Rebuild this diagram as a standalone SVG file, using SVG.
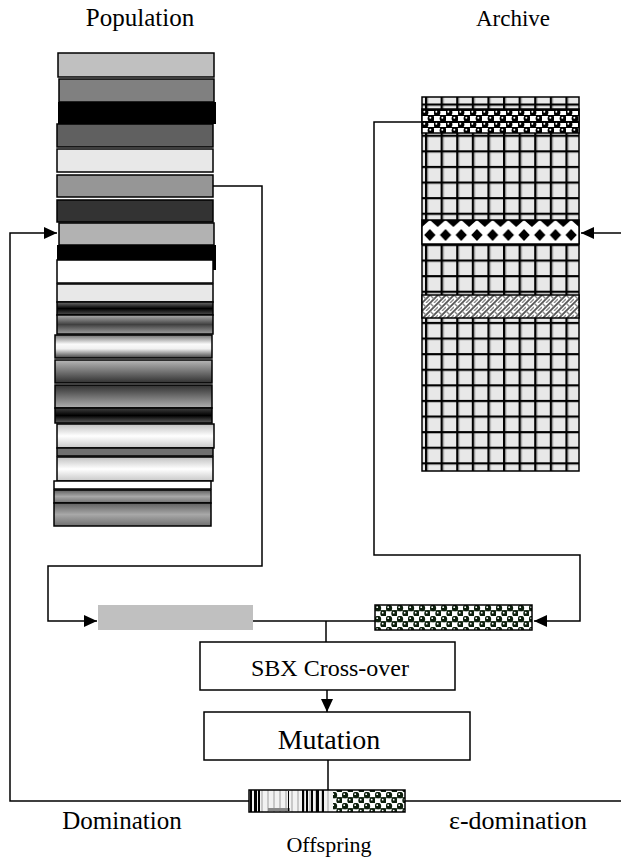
<svg xmlns="http://www.w3.org/2000/svg" width="621" height="861" viewBox="0 0 621 861">
<style>
.lbl{font-family:"Liberation Serif","Times New Roman",serif;fill:#000;text-anchor:middle}
.bar{stroke:#000;stroke-width:1.5}
.conn{fill:none;stroke:#000;stroke-width:1.5}
.box{fill:#fff;stroke:#000;stroke-width:1.5}
</style>
<defs>
<marker id="ah" markerWidth="14" markerHeight="14" refX="13" refY="7" orient="auto" markerUnits="userSpaceOnUse">
<path d="M0,1 L13,7 L0,13 Z" fill="#000"/>
</marker>
<linearGradient id="gDark" x1="0" y1="0" x2="0" y2="1"><stop offset="0" stop-color="#707070"/><stop offset="0.5" stop-color="#000"/><stop offset="1" stop-color="#505050"/></linearGradient>
<linearGradient id="gGrayMid" x1="0" y1="0" x2="0" y2="1"><stop offset="0" stop-color="#b0b0b0"/><stop offset="0.5" stop-color="#404040"/><stop offset="1" stop-color="#a0a0a0"/></linearGradient>
<linearGradient id="gWhite" x1="0" y1="0" x2="0" y2="1"><stop offset="0" stop-color="#707070"/><stop offset="0.4" stop-color="#fafafa"/><stop offset="0.6" stop-color="#f0f0f0"/><stop offset="1" stop-color="#404040"/></linearGradient>
<linearGradient id="gDown" x1="0" y1="0" x2="0" y2="1"><stop offset="0" stop-color="#b8b8b8"/><stop offset="1" stop-color="#303030"/></linearGradient>
<linearGradient id="gUp" x1="0" y1="0" x2="0" y2="1"><stop offset="0" stop-color="#303030"/><stop offset="1" stop-color="#b0b0b0"/></linearGradient>
<linearGradient id="gBlack" x1="0" y1="0" x2="0" y2="1"><stop offset="0" stop-color="#404040"/><stop offset="0.5" stop-color="#000"/><stop offset="1" stop-color="#606060"/></linearGradient>
<linearGradient id="gWhite2" x1="0" y1="0" x2="0" y2="1"><stop offset="0" stop-color="#c0c0c0"/><stop offset="0.5" stop-color="#ffffff"/><stop offset="1" stop-color="#c8c8c8"/></linearGradient>
<linearGradient id="gGray" x1="0" y1="0" x2="0" y2="1"><stop offset="0" stop-color="#606060"/><stop offset="0.5" stop-color="#a8a8a8"/><stop offset="1" stop-color="#707070"/></linearGradient>
<pattern id="grid" patternUnits="userSpaceOnUse" x="425" y="103.5" width="15.6" height="15.6">
<rect width="15.6" height="15.6" fill="#e8e8e8"/>
<rect x="0" y="0" width="2.2" height="15.6" fill="#000"/>
<rect x="2.2" y="0" width="1" height="15.6" fill="#808080"/>
<rect x="0" y="0" width="15.6" height="2.2" fill="#000"/>
</pattern>
<pattern id="balls" patternUnits="userSpaceOnUse" x="422" y="109" width="12" height="12">
<rect width="12" height="12" fill="#fff"/>
<rect x="0" y="0" width="12" height="2" fill="#000"/>
<rect x="0" y="6" width="12" height="1" fill="#000"/>
<circle cx="3" cy="3.5" r="3.4" fill="#000"/>
<circle cx="9" cy="9.5" r="3.4" fill="#000"/>
<circle cx="2.3" cy="2.8" r="1" fill="#fff"/>
<circle cx="8.3" cy="8.8" r="1" fill="#fff"/>
</pattern>
<pattern id="ballsG" patternUnits="userSpaceOnUse" x="375" y="605" width="11" height="11">
<rect width="11" height="11" fill="#fff"/>
<circle cx="3" cy="3" r="3.2" fill="#0d1f0d"/>
<circle cx="8.5" cy="8.5" r="3.2" fill="#0d1f0d"/>
<rect x="0" y="5.2" width="11" height="1" fill="#0d1f0d"/>
<circle cx="2.2" cy="2.2" r="0.9" fill="#fff"/>
<circle cx="7.7" cy="7.7" r="0.9" fill="#fff"/>
</pattern>
<pattern id="diam" patternUnits="userSpaceOnUse" x="422" y="220" width="15.7" height="24">
<rect width="15.7" height="24" fill="#fff"/>
<path d="M0,0 L7.85,0 L0,7 Z M15.7,0 L7.85,0 L15.7,7 Z" fill="#000"/>
<path d="M7.85,9 L13.5,15 L7.85,21 L2.2,15 Z" fill="#000"/>
</pattern>
<pattern id="weave" patternUnits="userSpaceOnUse" x="422" y="295" width="8" height="8">
<rect width="8" height="8" fill="#fff"/>
<path d="M0,8 L8,0 M-2,2 L2,-2 M6,10 L10,6" stroke="#555" stroke-width="1.8"/>
<path d="M0,0 L4,4 M4,8 L8,4" stroke="#888" stroke-width="1.4"/>
</pattern>
<pattern id="stripe" patternUnits="userSpaceOnUse" x="249" y="790" width="6" height="22">
<rect width="6" height="22" fill="#f2f2f2"/>
<rect x="0" width="2" height="22" fill="#c8c8c8"/>
</pattern>
</defs>

<text class="lbl" x="140" y="26" font-size="25">Population</text>
<text class="lbl" x="513" y="26" font-size="23">Archive</text>

<g id="population">
<rect class="bar" x="58" y="53" width="156" height="24" fill="#c0c0c0"/>
<rect class="bar" x="59" y="79" width="155" height="23" fill="#808080"/>
<rect x="58" y="102" width="158" height="22" fill="#000"/>
<rect class="bar" x="57" y="124" width="156" height="23" fill="#606060"/>
<rect class="bar" x="57" y="149" width="156" height="23" fill="#e8e8e8"/>
<rect class="bar" x="57" y="175" width="156" height="22" fill="#969696"/>
<rect class="bar" x="57" y="200" width="156" height="22" fill="#333333"/>
<rect class="bar" x="59" y="223" width="155" height="22" fill="#b2b2b2"/>
<rect x="57" y="245" width="159" height="25" fill="#000"/>
<rect class="bar" x="57" y="260" width="156" height="23" fill="#fff"/>
<rect class="bar" x="57" y="284" width="156" height="18" fill="#e8e8e8"/>
<rect class="bar" x="57" y="302" width="156" height="13" fill="url(#gDark)"/>
<rect class="bar" x="57" y="315" width="156" height="19" fill="url(#gGrayMid)"/>
<rect class="bar" x="55" y="335" width="157" height="23" fill="url(#gWhite)"/>
<rect class="bar" x="55" y="360" width="157" height="23" fill="url(#gDown)"/>
<rect class="bar" x="55" y="385" width="157" height="23" fill="url(#gUp)"/>
<rect class="bar" x="55" y="408" width="157" height="15" fill="url(#gBlack)"/>
<rect class="bar" x="57" y="424" width="157" height="24" fill="url(#gWhite2)"/>
<rect class="bar" x="57" y="448" width="156" height="8" fill="#707070"/>
<rect class="bar" x="57" y="457" width="156" height="24" fill="url(#gWhite2)"/>
<rect class="bar" x="54" y="481" width="157" height="8" fill="#fff"/>
<rect class="bar" x="54" y="490" width="157" height="13" fill="url(#gGray)"/>
<rect class="bar" x="54" y="503" width="157" height="23" fill="url(#gGray)"/>
</g>

<g id="archive">
<rect x="422" y="97" width="157" height="374" fill="url(#grid)" stroke="#000" stroke-width="1.5"/>
<rect class="bar" x="422" y="109" width="157" height="24" fill="url(#balls)"/>
<rect class="bar" x="422" y="220" width="157" height="24" fill="url(#diam)"/>
<rect class="bar" x="422" y="295" width="157" height="23" fill="url(#weave)"/>
</g>

<g id="parent1">
<rect x="98" y="605" width="155" height="25" fill="#c0c0c0"/>
</g>
<g id="parent2">
<rect class="bar" x="375" y="605" width="157" height="25" fill="url(#ballsG)"/>
</g>

<g id="connectors">
<polyline class="conn" points="213,186 262,186 262,566 48,566 48,621 97,621" marker-end="url(#ah)"/>
<polyline class="conn" points="422,122 374,122 374,555 580,555 580,621 534,621" marker-end="url(#ah)"/>
<line class="conn" x1="253" y1="621" x2="375" y2="621"/>
<line class="conn" x1="326" y1="621" x2="326" y2="642"/>
<line class="conn" x1="327" y1="690" x2="327" y2="712" marker-end="url(#ah)"/>
<line class="conn" x1="328" y1="760" x2="328" y2="790"/>
<polyline class="conn" points="249,801 10,801 10,233 57,233" marker-end="url(#ah)"/>
<line class="conn" x1="405" y1="801" x2="621" y2="801"/>
<line class="conn" x1="621" y1="233" x2="581" y2="233" marker-end="url(#ah)"/>
</g>

<g id="sbx">
<rect class="box" x="200" y="642" width="255" height="48"/>
<text class="lbl" x="330" y="676" font-size="24">SBX Cross-over</text>
</g>
<g id="mutation">
<rect class="box" x="204" y="712" width="266" height="48"/>
<text class="lbl" x="329" y="749" font-size="28">Mutation</text>
</g>

<g id="offspring">
<rect x="249" y="790" width="84" height="22" fill="url(#stripe)"/>
<rect x="250" y="790" width="2" height="22" fill="#000"/>
<rect x="254" y="790" width="3" height="22" fill="#000"/>
<rect x="258" y="790" width="2" height="22" fill="#000"/>
<rect x="268" y="808" width="22" height="3" fill="#888"/>
<rect x="288" y="791" width="1" height="20" fill="#000"/>
<rect x="302" y="790" width="2" height="22" fill="#000"/>
<rect x="306" y="790" width="2" height="22" fill="#000"/>
<rect x="311" y="790" width="2" height="22" fill="#000"/>
<rect x="316" y="790" width="3" height="22" fill="#000"/>
<rect x="322" y="790" width="2" height="22" fill="#000"/>
<rect x="333" y="790" width="72" height="22" fill="url(#ballsG)"/>
<rect x="249" y="790" width="156" height="22" fill="none" stroke="#000" stroke-width="1.5"/>
<text class="lbl" x="329" y="852" font-size="22">Offspring</text>
</g>

<text class="lbl" x="122" y="829" font-size="25">Domination</text>
<text class="lbl" x="518" y="829" font-size="26">ε-domination</text>
</svg>
